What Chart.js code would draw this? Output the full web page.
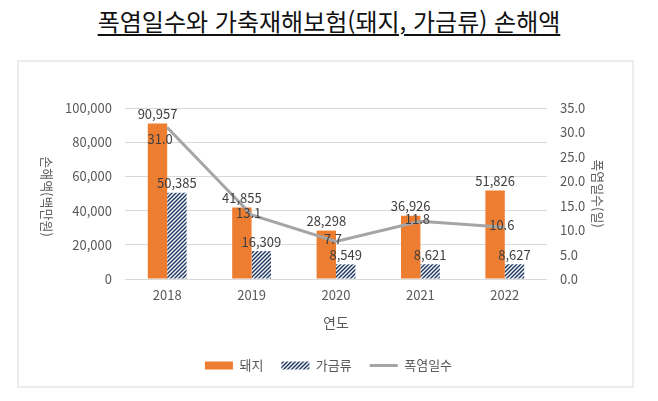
<!DOCTYPE html>
<html lang="ko">
<head>
<meta charset="utf-8">
<script src="https://cdn.jsdelivr.net/npm/chart.js@4/dist/chart.umd.min.js"></script>
<style>
  body { margin: 0; background: #fff; width: 658px; height: 401px; position: relative; overflow: hidden; }
  #title {
    position: absolute; left: 0; width: 658px; top: 3px; text-align: center;
    font-family: "Noto Sans CJK KR", sans-serif; font-size: 24px; color: #111;
    text-decoration: underline; text-decoration-thickness: 1.5px; text-underline-offset: 3px;
  }
  #box { position: absolute; left: 17px; top: 60px; width: 613px; height: 324px; border: 2px solid #ececec; }
  #chart { display: block; }
</style>
</head>
<body>
<div id="title">폭염일수와 가축재해보험(돼지, 가금류) 손해액</div>
<div id="box"><canvas id="chart" width="613" height="324"></canvas></div>
<script>
const years = ["2018", "2019", "2020", "2021", "2022"];
const pigLoss = [90957, 41855, 28298, 36926, 51826];
const poultryLoss = [50385, 16309, 8549, 8621, 8627];
const heatDays = [31.0, 13.1, 7.7, 11.8, 10.6];

const lossMax = 100000;
const lossStep = 20000;
const daysMax = 35;
const daysStep = 5;

const FONT = '"Noto Sans CJK KR", sans-serif';

// navy "////" hatch for the poultry bars
function makeHatch() {
  const c = document.createElement("canvas");
  c.width = 4; c.height = 4;
  const g = c.getContext("2d");
  g.fillStyle = "#ffffff";
  g.fillRect(0, 0, 4, 4);
  g.strokeStyle = "#1f3864";
  g.lineWidth = 1.5;
  g.beginPath();
  g.moveTo(-1, 5); g.lineTo(5, -1);
  g.moveTo(-1, 1); g.lineTo(1, -1);
  g.moveTo(3, 5); g.lineTo(5, 3);
  g.stroke();
  return g.createPattern(c, "repeat");
}

const valueLabels = {
  id: "valueLabels",
  afterDatasetsDraw(chart) {
    const ctx = chart.ctx;
    ctx.save();
    ctx.font = "13px " + FONT;
    ctx.fillStyle = "#404040";
    ctx.textAlign = "center";
    const pigBoxes = [];
    chart.data.datasets.forEach((ds, i) => {
      if (ds.type === "line") return;
      chart.getDatasetMeta(i).data.forEach((el, j) => {
        const txt = ds.data[j].toLocaleString("en-US");
        const w = ctx.measureText(txt).width;
        ctx.textBaseline = "bottom";
        ctx.fillText(txt, el.x, el.y - 3);
        if (i === 0) pigBoxes.push({ l: el.x - w / 2, r: el.x + w / 2, t: el.y - 18, b: el.y - 3 });
      });
    });
    chart.data.datasets.forEach((ds, i) => {
      if (ds.type !== "line") return;
      chart.getDatasetMeta(i).data.forEach((el, j) => {
        const txt = ds.data[j].toFixed(1);
        const w = ctx.measureText(txt).width;
        let x = el.x - 3, y = el.y - 2;
        // push a label down when it clearly runs into the pig label above it
        const hit = pigBoxes.some(b => x + w / 2 > b.l && x - w / 2 < b.r && y - 7 < b.b - 1 && y + 7 > b.t);
        if (hit) { y = el.y + 12; x = el.x - 7; }
        ctx.textBaseline = "middle";
        ctx.fillText(txt, x, y);
      });
    });
    ctx.restore();
  }
};

// left axis title, turned clockwise like the right one
const leftTitle = {
  id: "leftTitle",
  afterDraw(chart) {
    const ctx = chart.ctx;
    const a = chart.chartArea;
    ctx.save();
    ctx.translate(28, (a.top + a.bottom) / 2 + 3);
    ctx.rotate(Math.PI / 2);
    ctx.font = "13px " + FONT;
    ctx.fillStyle = "#595959";
    ctx.textAlign = "center";
    ctx.textBaseline = "middle";
    ctx.fillText("손해액(백만원)", 0, 0);
    ctx.restore();
  }
};

const ctx = document.getElementById("chart").getContext("2d");
new Chart(ctx, {
  type: "bar",
  data: {
    labels: years,
    datasets: [
      { label: "돼지", data: pigLoss, backgroundColor: "#ed7d31", yAxisID: "y", order: 1 },
      { label: "가금류", data: poultryLoss, backgroundColor: makeHatch(), yAxisID: "y", order: 1 },
      {
        type: "line", label: "폭염일수", data: heatDays, yAxisID: "y1", order: 0,
        borderColor: "#a5a5a5", backgroundColor: "#a5a5a5", borderWidth: 3,
        pointRadius: 0, tension: 0
      }
    ]
  },
  options: {
    responsive: false,
    animation: false,
    categoryPercentage: 0.46,
    barPercentage: 1,
    layout: { padding: { top: 46, left: 28, right: 22, bottom: 4 } },
    scales: {
      x: {
        grid: { display: false, drawTicks: false },
        border: { display: false },
        ticks: { color: "#595959", font: { family: FONT, size: 13 }, padding: 8 },
        title: { display: true, text: "연도", color: "#595959", font: { family: FONT, size: 14 }, padding: { top: 4, bottom: 10 } },
        afterFit(s) { s.height = 62; }
      },
      y: {
        position: "left",
        min: 0, max: lossMax,
        grid: { color: "#d9d9d9", drawTicks: false },
        border: { display: false },
        ticks: {
          stepSize: lossStep, padding: 13, color: "#595959",
          font: { family: FONT, size: 13 },
          callback: v => v.toLocaleString("en-US")
        },
        afterFit(s) { s.width = 78; }
      },
      y1: {
        position: "right",
        min: 0, max: daysMax,
        grid: { display: false, drawTicks: false },
        border: { display: false },
        ticks: {
          stepSize: daysStep, padding: 13, color: "#595959",
          font: { family: FONT, size: 13 },
          callback: v => v.toFixed(1)
        },
        title: { display: true, text: "폭염일수(일)", color: "#595959", font: { family: FONT, size: 13 }, padding: 4 },
        afterFit(s) { s.width = 63; }
      }
    },
    plugins: {
      legend: {
        position: "bottom",
        labels: {
          usePointStyle: true,
          pointStyleWidth: 28,
          boxHeight: 8,
          padding: 18,
          color: "#595959",
          font: { family: FONT, size: 13 },
          sort: (a, b) => a.datasetIndex - b.datasetIndex,
          generateLabels(chart) {
            const items = Chart.defaults.plugins.legend.labels.generateLabels(chart);
            items.forEach(it => {
              const ds = chart.data.datasets[it.datasetIndex];
              if (ds.type === "line") {
                it.pointStyle = "line";
                it.lineWidth = 3;
                it.strokeStyle = "#a5a5a5";
              } else {
                it.pointStyle = "rect";
                it.lineWidth = 0;
              }
            });
            return items;
          }
        }
      },
      tooltip: { enabled: false }
    }
  },
  plugins: [valueLabels, leftTitle]
});
</script>
</body>
</html>
